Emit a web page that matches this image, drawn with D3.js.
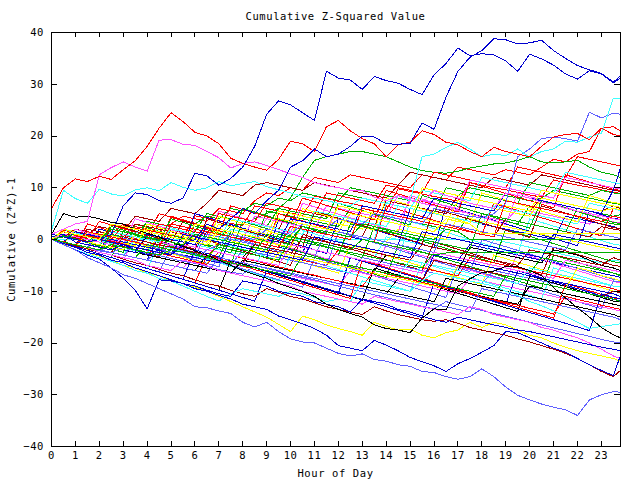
<!DOCTYPE html>
<html><head><meta charset="utf-8">
<script src="https://cdn.jsdelivr.net/npm/d3@7"></script>
<style>body{margin:0;background:#fff}svg{display:block}</style>
</head><body>
<svg id="chart" width="640" height="480"></svg>
<script>
// ---------- data ----------
const hours = [0,0.5,1,1.5,2,2.5,3,3.5,4,4.5,5,5.5,6,6.5,7,7.5,8,8.5,9,9.5,10,10.5,11,11.5,
               12,12.5,13,13.5,14,14.5,15,15.5,16,16.5,17,17.5,18,18.5,19,19.5,20,20.5,21,21.5,22,22.5,23,23.5,23.8];
const xTicks = [0,1,2,3,4,5,6,7,8,9,10,11,12,13,14,15,16,17,18,19,20,21,22,23];
const yTicks = [-40,-30,-20,-10,0,10,20,30,40];

const zA = [1,0.5,0,-0.5,0,1,6.5,9, 8.7,7.5,7,8,12.8,12.3,10.5,11.8, 14,18,24.2,26.8,26,24.5,23,32.5,
  31.2,30.8,29,31.5,30.7,30.2,29,28, 31.8,34,37,35.5,35.9,35.7,34.5,32.5, 35.8,34.9,33.7,32,31,32.6,32,30.3, 31.2];
const zQ = [0.5,1,-0.5,-1,-1.5,-2,-1,-2, -3,-2,-3,-1,0,3,2,4, 6,5,7.5,9.5,14,15.2,17.5,16,
  16.5,18,20,19.8,18.5,18.4,18.6,22.5, 21.3,27.5,32.5,35.2,36.5,38.8,38.6,37.8, 38,38.5,36.5,35,33.6,32.8,32.1,30.4, 31.6];
const zR = [6,10,11.7,11.2,12.2,11.6,13.5,15.2, 18,21.5,24.5,22.8,20.7,20,18.5,15.7, 14.7,14,13.4,15.5,19,18.5,17,21.8,
  23,21,19.5,18.5,16,18.3,18.8,21, 20.3,18.8,18.3,17,16,17.8,17,16.5, 16,18,19.8,20.3,20.5,19.3,21.5,20.3, 20];
const zM = [1,2,3,3.5,12.5,13.9,15,14, 13.2,19.2,19.3,18.4,18.2,17,15.8,13.8, 14.7,15,14.3,13.5,12.7,12,11,10.4,
  10,9.5,9.5,8.2,7.5,8.5,7.7,7, 9.5,8.5,8,7,6.5,6,9,8.5, 8,7.2,6.8,6,5.5,5,4.6,4, 3.8];
const zC = [1.7,9.5,7.9,7,9.7,8.8,8.4,9.6, 10,9.4,11,10.1,9.5,10,11.2,10.4, 10.8,11.2,10.2,9.6,9,8.3,8,7.5,
  7,6.5,8,7.5,7,8.5,7.5,16, 16.5,17.8,18.8,17.5,16,16.5,16.2,17.5, 15.9,17,17.5,19,18.8,19.8,20.5,27.3, 27.2];
const zLV = [0,-0.5,-1,-1.5,-2,-2.5,-3,-3.5, -4,-2,-2.5,-3,-4,-2,-1,1, 0.5,0,2,1.5,1,3,2.5,2,
  4,3.5,3,5,4.5,4,3.5,3, 6,5.5,5,4.5,4.2,5,7,16, 17.5,19.5,19.8,19.5,19,24.6,23.5,24.4, 24.2];
const zLB1 = [0,-1,-2,-3.5,-4.5,-5.5,-6.8,-7.5, -8.5,-9.5,-10.5,-11.5,-13,-13.2,-13.8,-14.3, -16,-16.9,-16,-17.8,-19.2,-19.8,-20,-21,
  -22,-22.5,-22.1,-23.2,-23.5,-24.2,-24.5,-25.5, -25.7,-26.5,-27,-26.5,-25,-26.5,-28.5,-30.1, -31,-31.8,-32.4,-32.9,-34,-31,-30,-29.4, -29.5];
const zDB2 = [0,-0.8,-1.5,-2.5,-3,-4,-4.5,-5.5, -6.2,-7,-7.8,-8.5,-9.5,-10,-10.8,-11.5, -12.5,-13,-13.5,-14.8,-15.5,-16.3,-17.2,-18.5,
  -20.5,-21,-21.5,-19.5,-20.4,-21.5,-22.8,-23.6, -24.4,-25.5,-24,-23,-21.8,-20.5,-17.8,-18, -19,-20,-21,-21.8,-23,-24.2,-25.3,-26.3, -22.4];
const zK1 = [1,5,4.3,4.5,4,3.3,3,2, 1.2,0.5,-0.5,-1.3,-2.2,-3,-4,-5, -6,-6.8,-7.5,-8.5,-9.3,-10,-11,-12.5,
  -13.5,-14.3,-15,-16.5,-17.2,-17.5,-18,-15.2, -13.4,-13.6,-9,-7.6,-6.4,-6.1,-5.2,-5.2, -6,-7,-9.3,-11.3,-13.2,-15,-17,-18.4, -19];
const zY1 = [0,-1,-1.5,-2.5,-3.2,-4,-5,-5.5, -6.5,-7,-8,-8.5,-9.2,-10,-11,-12, -13,-14,-15,-16.4,-17.8,-14.8,-15.5,-16.5,
  -17.2,-17.8,-18.5,-16,-16.8,-17.5,-17.3,-18.5, -19,-18,-17.5,-16,-17,-16,-16.5,-17.5, -18.5,-19,-20,-20.8,-21.5,-22,-22.5,-23, -23.5];
const zDR1 = [0,-0.5,-1.2,-1.8,-2.5,-3,-3.8,-4.5, -5,-5.8,-6.5,-7,-7.8,-8.5,-9,-9.8, -10.5,-11,-9.5,-10.2,-11,-11.5,-12.2,-13,
  -13.5,-14,-14.5,-13,-13.8,-14.5,-15,-15.5, -15.8,-15.5,-16.2,-17,-17.5,-18,-18.5,-19.2, -19.8,-20.5,-21.2,-22,-23,-24.2,-25.5,-26.5, -25.3];
const zCL = [0,-1,-2,-2.8,-3.5,-4.2,-5,-6, -6.5,-7.5,-8,-9,-10,-11,-11.9,-10.5, -9.5,-10,-10.5,-11,-10,-10.5,-11.2,-12,
  -11.5,-12,-8,-8.5,-9,-9.5,-10,-8, -6.5,-7,-7.5,-8,-8.5,-9,-10,-10.8, -12,-12.8,-13.8,-14.8,-16,-17.2,-16.8,-16.5, -16.3];
const zML = [0,-0.5,-1,-1.5,-2.5,-3,-3.5,-4, -5,-5.5,-6,-4,-4.5,-5,-6,-6.5, -7,-7.5,-8,-8.5,-9,-10,-10.5,-11,
  -11.5,-12,-12.5,-11,-11.5,-12,-12.5,-13, -13.5,-14,-14.5,-13,-13.5,-14.5,-15,-15.5, -16,-17,-17.5,-18.3,-19,-20,-21.2,-22.5, -23];
const zD4 = [0,-1,-2,-3,-3.8,-5.5,-7.5,-9.8, -13.4,-7.8,-8,-8.5,-9,-9.8,-10.5,-11, -8,-8.5,-9,-10,-10.5,-11,-12,-12.5,
  -13,-14,-11.5,-12,-12.5,-13.5,-14,-14.8, -15.5,-16,-15,-15.5,-16,-16.5,-17,-17.5, -17.8,-18.3,-18.8,-19.3,-19.8,-20.3,-20.8,-21.2, -21.5];
const zR2 = [0,1,0.5,2,1.5,1,3,2.5, 2,1.5,3,4.5,4,3.5,6,5.5, 5,7.5,9,8.5,10,9.5,12,11.5,
  11,12.5,12,11.5,11,10.5,10,12.5, 12,11.5,14,13.5,13,12.5,13.5,13, 12.5,14,15.5,15,16.5,17,21.5,21.8, 21];
const zDR2 = [0,0.5,1.5,1,2.5,2,1.5,4.5, 4,3.5,6,5.5,5,7,9.5,9, 8.5,10.5,11,10.5,10,9.5,11,10.5,
  10,9.5,9,8.5,8,10.5,13,12.5, 12,11.5,11,10.5,10,12,11.5,11, 10.5,12.5,12,11.5,11,10.5,10,9.5, 9.3];
const zG1 = [0,-0.5,-1,0.5,0,-0.5,-1,-1.5, -2,-1,-1.5,0,1.5,1,0.5,2.5, 3,4,5,6,8,12,15.3,16,
  16.5,17,17,16.5,16,15,14,13.3, 13,12.8,13.2,13.8,14.2,14.6,14.8,15.3, 16,15,14.8,15,15.3,14,13,12.5, 12];
const zG2 = [0,0.5,0,-0.5,-1,-1.5,-1,-2, -2.5,-3,-1,-1.5,3,4.5,4,6, 5.5,7,6.5,8,7.5,9,8.5,8,
  7.5,10,9.5,9,8.5,8,7.5,7, 9.5,9,8.5,10,9.5,9,8.5,8, 7.5,8,9.5,9,8.5,8,7.5,7, 6.8];
const zR3 = [0,1.8,1.3,0.9,0.4,0,2.7,2.2, 1.8,1.3,0.8,0.3,4.6,4.1,3.6,3.1, 2.7,6.5,6,5.5,5.1,4.6,8.4,7.9,
  7.4,7,6.5,6,5.6,9.8,9.3,8.8, 8.3,7.9,7.4,11,10.5,10,9.6,9.1, 8.6,8.2,11.5,11,10.5,10.1,9.6,9.1, 8.9];
const zG4 = [0,-0.5,-1,1.5,1,0.5,0,-0.5, -1,-1.5,2.5,2,1.5,1,0.5,0, -0.5,-1,5.5,5,4.5,4,3.5,3,
  2.5,6,5.5,5,4.5,4,3.5,3, 2.5,2,1.5,5,4.5,4,3.5,3, 6.5,6,5.5,5,4.5,4,3.5,3, 2.8];
const zB3 = [0,-0.5,-1,-1.5,2,1.5,1,0.5, 0,-0.5,-1,-1.5,-2,1.5,1,0.5, 0,-0.5,-1,-1.5,-2,-2.5,2,1.5,
  1,0.5,0,-0.5,-1,-1.5,-2,-2.5, -3,-3.5,-4,-1,-1.5,-2,-2.5,-3, -3.5,-4,-4.5,-5,-5.5,-6,-6.5,-7, -7.3];
const zM2 = [0,0.5,0,-0.5,-1,-1.5,1.5,1, 0.5,0,-0.5,-1,-1.5,2.5,2,1.5, 1,0.5,4,3.5,3,2.5,2,6.5,
  6,5.5,5,4.5,4,3.5,7.5,7, 6.5,6,5.5,5,4.5,4,3.5,6, 5.5,5,4.5,4,3.5,3,5,4.5, 4.2];
const zC2 = [0,1,0.5,0,-0.5,-1,-1.5,-2, -2.5,0.5,0,-0.5,-1,-1.5,-2,-2.5, -3,1.5,1,0.5,0,-0.5,-1,-1.5,
  -2,-2.5,-3,-3.5,0.5,0,-0.5,-1, -1.5,-2,-2.5,-3,-3.5,0,-0.5,-1, -1.5,-2,-2.5,-3,-3.5,-4,-4.5,-4, -4.2];
const zDR3 = [0,0.5,2,1.5,1,0.5,0,3, 2.5,2,1.5,1,0.5,0,4.5,4, 3.5,3,2.5,2,6,5.5,5,4.5,
  4,3.5,3,2.5,7.5,7,6.5,6, 5.5,5,8.5,8,7.5,7,6.5,6, 5.5,8,7.5,7,6.5,6,5.5,6.5, 6];
const zY3 = [0,-0.5,1,0.5,0,-0.5,-1,-1.5, -2,0.5,0,-0.5,-1,-1.5,1.5,1, 0.5,0,-0.5,-1,-1.5,3,2.5,2,
  1.5,1,0.5,0,-0.5,2,1.5,1, 0.5,0,4.5,4,3.5,3,2.5,2, 1.5,1,0.5,0,-0.5,-1,-1.5,-2, -2.2];
const zLB2 = [0,-0.5,-1,-1.5,-2,-2.5,-3,-1, -1.5,-2,-2.5,-3,-3.5,-4,-4.5,-5, -2,-2.5,-3,-3.5,-4,-4.5,-5,-5.5,
  -6,-6.5,-3.5,-4,-4.5,-5,-5.5,-6, -6.5,-7,-7.5,-8,-8.5,-6,-6.5,-7, -7.5,-8,-8.5,-9,-9.5,-10,-11,-11.5, -12];
const zK2 = [0,1,0.5,0,-0.5,-1,-1.5,-2, 0.5,0,-0.5,-1,-1.5,-2,-2.5,-3, -3.5,-1,-1.5,-2,-2.5,-3,-3.5,-4,
  -4.5,-5,-5.5,-6,-3,-3.5,-4,-4.5, -5,-5.5,-6,-1.5,-2,-2.5,-3,-3.5, -4,-4.5,-2,-2.5,-3,-4,-5,-5.5, -6];
const zR4 = [0,-0.5,-1,-1.5,-2,0.5,0,-0.5, -1,-1.5,-2,-2.5,-3,-3.5,-0.5,-1, -1.5,-2,-2.5,-3,-3.5,-4,-4.5,-5,
  -2,-2.5,-3,-3.5,-4,-4.5,-5,-5.5, -6,-6.5,-7,-3.5,-4,-4.5,-5,-5.5, -6,-6.5,-7,-7.5,-8,-8.5,-9,-9.5, -10];
const zG5 = [0,0.5,0,-0.5,1.5,1,0.5,0, 3.5,3,2.5,2,1.5,5,4.5,4, 3.5,3,2.5,6,5.5,5,4.5,4,
  9,8.5,8,7.5,7,6.5,6,5.5, 5,10,9.5,9,8.5,8,7.5,7, 11,10.5,10,9.5,9,8.5,9.5,9, 8.8];
const zB4 = [0,-0.5,-1,-1.5,-2,-2.5,-3,-3.5, -4,1,0.5,0,-0.5,-1,-1.5,-2, -2.5,-3,-3.5,4,3.5,3,2.5,2,
  1.5,1,0.5,0,-0.5,-1,6,5.5, 5,4.5,4,3.5,3,2.5,2,1.5, 1,0.5,0,4.5,4,3.5,3,2.5, 2];
const zM3 = [0,-0.5,-1,-1.5,-2,-2.5,-3,-3.5, -4,-4.5,-5,-5.5,-3,-3.5,-4,-4.5, -5,-5.5,-6,-6.5,-7,-7.5,-8,-8.5,
  -9,-6,-6.5,-7,-7.5,-8,-8.5,-9, -9.5,-10,-10.5,-7.5,-8,-8.5,-9,-9.5, -10,-10.5,-11,-11.5,-12,-12.5,-13,-13.5, -13.8];
const zC3 = [0,0.5,1,0.5,0,-0.5,-1,1.5, 1,0.5,0,-0.5,-1,-1.5,-2,2, 1.5,1,0.5,0,3.5,3,2.5,2,
  1.5,1,0.5,0,7,6.5,6,5.5, 5,4.5,4,3.5,3,6.5,6,5.5, 5,4.5,4,3.5,3,7,6.5,6, 5.5];
const zDR4 = [0,-0.5,-1,2,1.5,1,0.5,0, -0.5,-1,-1.5,-2,1,0.5,0,-0.5, -1,-1.5,-2,-2.5,-3,0.5,0,-0.5,
  -1,-1.5,-2,-2.5,-3,-3.5,-4,-1, -1.5,-2,-2.5,-3,-3.5,-4,-4.5,-5, -2,-2.5,-3,-3.5,-4,-4.5,-5,-3.5, -4];
const zY4 = [0,2,1.5,1,0.5,0,-0.5,-1, 2,1.5,1,0.5,0,-0.5,3,2.5, 2,1.5,1,5.5,5,4.5,4,3.5,
  3,2.5,2,6,5.5,5,4.5,4, 3.5,3,7.5,7,6.5,6,5.5,5, 4.5,8,7.5,7,6.5,6,5.5,6, 5.8];
const zLB3 = [0,-0.6,-1.1,-1.5,-2.2,-2.6,-1.5,-2, -2.6,-3.1,-3.7,-4.2,-4.6,-5.2,-5.8,-6.3, -6.7,-5,-5.6,-6.2,-6.7,-7.3,-7.8,-8.4,
  -9,-9.6,-10.1,-10.7,-11.2,-11.8,-12.3,-12.9, -13.4,-12,-12.6,-13.2,-13.7,-14.3,-14.8,-15.4, -16,-16.5,-17.1,-17.6,-18.2,-18.7,-19.3,-19.8, -20];
const zK3 = [0,-0.5,-1,-1.5,-2,-2.5,-3,-3.5, -4,-4.5,-5,-5.5,-6,-3,-3.5,-4, -4.5,-5,-5.5,-6,-6.5,-7,-7.5,-8,
  -8.5,-9,-9.5,-10,-10.5,-7.5,-8,-8.5, -9,-9.5,-10,-10.5,-11,-11.5,-12,-12.5, -9,-9.5,-10,-10.5,-11,-11.5,-12,-12.5, -12.8];
const zR5 = [0,0.5,0,-0.5,-1,-1.5,1,0.5, 0,3,2.5,2,1.5,1,5,4.5, 4,3.5,7,6.5,6,5.5,5,9,
  8.5,8,7.5,7,10.5,10,9.5,9, 13,12.5,12,11.5,11,10.5,10,14, 13.5,13,12.5,12,16,15.5,15,14.5, 14.2];
const zG6 = [0,1.5,1,0.5,0,-0.5,-1,-1.5, -2,-2.5,0.5,0,-0.5,-1,-1.5,-2, -2.5,-3,-3.5,-4,0,-0.5,-1,-1.5,
  -2,-2.5,-3,-3.5,-4,-4.5,-5,-5.5, -2.5,-3,-3.5,-4,-4.5,-5,-5.5,-6, -6.5,-3.5,-4,-4.5,-5,-5.5,-6,-6.5, -7];
const zB5 = [0,-0.5,1.5,1,0.5,0,-0.5,-1, -1.5,-2,-2.5,-3,-3.5,-4,-4.5,0, -0.5,-1,-1.5,-2,-2.5,-3,-3.5,-4,
  -4.5,-5,-5.5,-6,-6.5,-7,-7.5,-8, -3,-3.5,-4,-4.5,-5,-5.5,-6,-6.5, -7,-7.5,-8,-8.5,-9,-9.5,-10,-10.5, -11];
const zM4 = [0,-0.5,-1,-1.5,-2,-2.5,1,0.5, 0,-0.5,-1,-1.5,2,1.5,1,0.5, 0,4.5,4,3.5,3,2.5,2,1.5,
  6.5,6,5.5,5,4.5,8.5,8,7.5, 7,6.5,6,11.5,11,10.5,10,9.5, 9,8.5,8,12,11.5,11,10.5,10, 9.8];
const zC4 = [0,-0.5,-1,-1.5,-2,-2.5,-3,0, -0.5,-1,-1.5,-2,-2.5,-3,-3.5,-4, -4.5,-5,-1.5,-2,-2.5,-3,-3.5,-4,
  -4.5,-5,-5.5,-6,-6.5,-7,-4,-4.5, -5,-5.5,-6,-6.5,-7,-7.5,-8,-8.5, -5.5,-6,-6.5,-7,-7.5,-8,-8.5,-9, -9.2];
const zDR5 = [0,0.5,0,-0.5,-1,2,1.5,1, 0.5,0,-0.5,3.5,3,2.5,2,1.5, 1,0.5,0,-0.5,-1,3,2.5,2,
  1.5,1,0.5,5.5,5,4.5,4,3.5, 3,2.5,2,1.5,1,0.5,4,3.5, 3,2.5,2,1.5,1,0.5,2.5,2, 1.8];
const zY5 = [0,-0.5,-1,-1.5,-2,-2.5,-3,-3.5, -1,-1.5,-2,-2.5,-3,-3.5,-4,-4.5, -5,-5.5,-6,-2.5,-3,-3.5,-4,-4.5,
  -5,-5.5,-6,-6.5,-7,-7.5,-8,-8.5, -9,-9.5,-5,-5.5,-6,-6.5,-7,-7.5, -8,-8.5,-9,-9.5,-5.5,-6,-7,-7.5, -8];
const zLB4 = [0,-0.5,-1,-1.5,1,0.5,0,-0.5, -1,-1.5,-2,-2.5,-3,1,0.5,0, -0.5,-1,-1.5,-2,-2.5,-3,-3.5,2,
  1.5,1,0.5,0,-0.5,-1,-1.5,-2, -2.5,3,2.5,2,1.5,1,0.5,0, -0.5,-1,-1.5,-2,2,1.5,1,0.5, 0.2];
const zK4 = [0,0.5,0,-0.5,-1,-1.5,-2,-2.5, -3,-3.5,-4,-4.5,-5,-5.5,-6,-6.5, -4,-4.5,-5,-5.5,-6,-6.5,-7,-7.5,
  -8,-8.5,-9,-9.5,-10,-10.5,-11,-11.5, -12,-7.5,-8,-8.5,-9,-9.5,-10,-10.5, -11,-11.5,-12,-12.5,-13,-13.5,-14,-14.5, -15];
const zR6 = [0,-0.4,-1.1,0.8,0.2,-0.3,-0.9,-1.5, -2.1,-2.6,-3.2,-3.7,-4.3,-4.8,-2.5,-3, -3.6,-4.1,-4.7,-5.3,-5.8,-6.4,-6.9,-7.5,
  -8,-8.6,-9.1,-6,-6.6,-7.2,-7.7,-8.3, -8.8,-9.4,-9.9,-10.5,-11.1,-11.6,-12.2,-12.7, -13.3,-13.8,-14.4,-11,-11.6,-12.1,-12.7,-13.2, -13.5];
const zG7 = [0,-0.5,-1,-1.5,-2,1,0.5,0, -0.5,-1,-1.5,-2,-2.5,-3,-3.5,1.5, 1,0.5,0,-0.5,-1,-1.5,-2,-2.5,
  -3,3,2.5,2,1.5,1,0.5,0, -0.5,-1,-1.5,-2,5,4.5,4,3.5, 3,2.5,2,1.5,6,5.5,5,4.5, 4.8];
const zB6 = [0,0.5,0,-0.5,-1,-1.5,-2,-2.5, 1,0.5,0,-0.5,-1,2.5,2,1.5, 1,0.5,0,-0.5,4,3.5,3,2.5,
  2,1.5,6.5,6,5.5,5,4.5,4, 8,7.5,7,6.5,6,5.5,9,8.5, 8,7.5,7,6.5,6,5.5,5,9.6, 13.8];
const zM5 = [0,1,0.5,0,-0.5,-1,-1.5,-2, -2.5,-3,-0.5,-1,-1.5,-2,-2.5,-3, -3.5,-4,-4.5,-5,-1,-1.5,-2,-2.5,
  -3,-3.5,-4,-4.5,-5,-5.5,-6,-6.5, -2.5,-3,-3.5,-4,-4.5,-5,-5.5,-6, -6.5,-7,-7.5,-4,-4.5,-5,-5.5,-6, -6.2];
const zC5 = [0,0.5,0,-0.5,-1,1.5,1,0.5, 0,-0.5,2,1.5,1,0.5,0,4, 3.5,3,2.5,2,1.5,1,5.5,5,
  4.5,4,3.5,3,2.5,6.5,6,9.5, 9,8.5,8,7.5,12,11.5,11,10.5, 10,9.5,9,13,12.5,12,11.5,11, 10.8];
const zDR6 = [0,-0.5,-1,-1.5,-2,-2.5,0.5,0, -0.5,-1,-1.5,-2,-2.5,-3,-3.5,-4, -4.5,-1,-1.5,-2,-2.5,-3,-3.5,-4,
  -4.5,-5,-5.5,-6,-6.5,-7,-7.5,-8, -4,-4.5,-5,-5.5,-6,-6.5,-7,-7.5, -8,-8.5,-9,-9.5,-10,-10.5,-11,-10, -10.3];
const zY6 = [0,0.5,0,-0.5,-1,-1.5,-2,1, 0.5,0,-0.5,-1,3,2.5,2,1.5, 1,0.5,0,4,3.5,3,2.5,2,
  6.5,6,5.5,5,4.5,4,3.5,10, 9.5,9,8.5,8,7.5,7,6.5,6, 5.5,9.5,9,8.5,8,7.5,7,6.5, 6.2];
const zLB5 = [0,-0.5,-1,-1.5,-2,-2.5,-3,-3.5, -4,-4.5,-5,-5.5,-6,-6.5,-3.5,-4, -4.5,-5,-5.5,-6,-6.5,-7,-7.5,-8,
  -8.5,-9,-9.5,-10,-10.5,-11,-11.5,-12, -12.5,-13,-13.5,-14,-9.5,-10,-10.5,-11, -11.5,-12,-12.5,-13,-13.5,-14,-14.5,-15, -15.5];
const zR7 = [0,-0.5,-1,1.5,1,0.5,0,-0.5, -1,-1.5,3,2.5,2,1.5,1,0.5, 0,-0.5,-1,-1.5,2.5,2,1.5,1,
  0.5,0,6,5.5,5,4.5,4,3.5, 3,2.5,2,1.5,1,0.5,7.5,7, 6.5,6,5.5,5,4.5,4,3.5,4.5, 4.2];
const zG8 = [0,-0.5,-1,-1.5,-2,-2.5,-3,-3.5, -1,-1.5,-2,-2.5,-3,-3.5,-4,-4.5, -5,-5.5,-6,-6.5,-7,-3,-3.5,-4,
  -4.5,-5,-5.5,-6,-6.5,-7,-7.5,-8, -8.5,-9,-9.5,-10,-10.5,-11,-7,-7.5, -8,-8.5,-9,-9.5,-10,-10.5,-11,-11.5, -12];
const zB7 = [0,1.5,1,0.5,0,-0.5,-1,-1.5, -2,-2.5,-3,1,0.5,0,-0.5,-1, -1.5,-2,-2.5,-3,-3.5,-4,0.5,0,
  -0.5,-1,-1.5,-2,-2.5,-3,-3.5,1.5, 1,0.5,0,-0.5,-1,-1.5,-2,-2.5, -3,-3.5,1,0.5,0,-0.5,-1,-1.5, -1.8];
const zN1 = [0,-0.7,-1.4,3,2.3,1.6,0.9,0.2, -0.5,-1.2,4.5,3.8,3.1,2.4,1.7,1, 0.3,-0.4,-1.1,5,4.3,3.6,2.9,2.2,
  1.5,0.8,0.1,-0.6,6.5,5.8,5.1,4.4, 3.7,3,2.3,1.6,0.9,7,6.3,5.6, 4.9,4.2,3.5,2.8,2.1,1.4,0.7,6, 6.2];
const zN2 = [0,1,0.3,-0.4,-1.1,-1.8,-2.5,3, 2.3,1.6,0.9,0.2,-0.5,-1.2,-1.9,-2.6, 3.5,2.8,2.1,1.4,0.7,0,-0.7,-1.4,
  -2.1,-2.8,-3.5,2.5,1.8,1.1,0.4,-0.3, -1,-1.7,-2.4,-3.1,-3.8,-4.5,2,1.3, 0.6,-0.1,-0.8,-1.5,-2.2,-2.9,-3.6,-4.3, -4.5];
const zN3 = [0,-0.7,-1.4,-2.1,-2.8,2.5,1.8,1.1, 0.4,-0.3,-1,-1.7,5,4.3,3.6,2.9, 2.2,1.5,0.8,0.1,-0.6,-1.3,-2,-2.7,
  4,3.3,2.6,1.9,1.2,0.5,-0.2,-0.9, -1.6,6.5,5.8,5.1,4.4,3.7,3,2.3, 1.6,0.9,0.2,-0.5,-1.2,5.5,4.8,4.1, 3.9];
const zN4 = [0,-0.7,-1.4,-2.1,-2.8,-3.5,-4.2,1, 0.3,-0.4,-1.1,-1.8,-2.5,-3.2,-3.9,-4.6, -5.3,0.5,-0.2,-0.9,-1.6,-2.3,-3,-3.7,
  -4.4,-5.1,-5.8,-6.5,-1,-1.7,-2.4,-3.1, -3.8,-4.5,-5.2,-5.9,-6.6,-7.3,-8,-2.5, -3.2,-3.9,-4.6,-5.3,-6,-6.7,-7.4,-8.1, -8.4];
const zN5 = [0,2,1.3,0.6,-0.1,-0.8,-1.5,-2.2, -2.9,3,2.3,1.6,0.9,0.2,-0.5,-1.2, -1.9,-2.6,-3.3,-4,2.5,1.8,1.1,0.4,
  -0.3,-1,-1.7,-2.4,-3.1,-3.8,3.5,2.8, 2.1,1.4,0.7,0,-0.7,-1.4,-2.1,-2.8, 4,3.3,2.6,1.9,1.2,0.5,-0.2,-0.9, -1.1];
const zN6 = [0,-0.7,1.5,0.8,0.1,-0.6,-1.3,-2, -2.7,-3.4,2,1.3,0.6,-0.1,-0.8,-1.5, -2.2,-2.9,-3.6,-4.3,-5,1,0.3,-0.4,
  -1.1,-1.8,-2.5,-3.2,-3.9,-4.6,-5.3,-6, -0.5,-1.2,-1.9,-2.6,-3.3,-4,-4.7,-5.4, -6.1,-6.8,-1.5,-2.2,-2.9,-3.6,-4.3,-5, -5.2];
const zN7 = [0,-0.7,-1.4,-2.1,1.5,0.8,0.1,-0.6, -1.3,-2,-2.7,-3.4,-4.1,-4.8,0.5,-0.2, -0.9,-1.6,-2.3,-3,-3.7,-4.4,-5.1,-5.8,
  -6.5,-1,-1.7,-2.4,-3.1,-3.8,-4.5,-5.2, -5.9,-6.6,-7.3,-8,-8.7,-3,-3.7,-4.4, -5.1,-5.8,-6.5,-7.2,-7.9,-8.6,-9.3,-10, -10.2];
const zN8 = [0,-0.7,-1.4,-2.1,-2.8,-3.5,-4.2,-4.9, -5.6,-6.3,-1.5,-2.2,-2.9,-3.6,-4.3,-5, -5.7,-6.4,-7.1,-7.8,-8.5,-9.2,-3.5,-4.2,
  -4.9,-5.6,-6.3,-7,-7.7,-8.4,-9.1,-9.8, -10.5,-11.2,-5,-5.7,-6.4,-7.1,-7.8,-8.5, -9.2,-9.9,-10.6,-11.3,-12,-12.7,-13.4,-8, -8.2];
const zN9 = [0,1.5,0.8,0.1,3.5,2.8,2.1,1.4, 0.7,5,4.3,3.6,2.9,2.2,1.5,6.5, 5.8,5.1,4.4,3.7,3,8,7.3,6.6,
  5.9,5.2,4.5,3.8,9.5,8.8,8.1,7.4, 6.7,6,5.3,11,10.3,9.6,8.9,8.2, 7.5,6.8,6.1,12.5,11.8,11.1,10.4,9.7, 9.5];
const zN10 = [0,-0.7,-1.4,-2.1,-2.8,-3.5,1.5,0.8, 0.1,-0.6,-1.3,-2,-2.7,-3.4,-4.1,-4.8, 1,0.3,-0.4,-1.1,-1.8,-2.5,-3.2,-3.9,
  -4.6,-5.3,-6,-6.7,-7.4,-1,-1.7,-2.4, -3.1,-3.8,-4.5,-5.2,-5.9,-6.6,-7.3,-8, -8.7,-9.4,-3,-3.7,-4.4,-5.1,-5.8,-6.5, -6.8];
const zN11 = [0,-0.7,-1.4,-2.1,-2.8,-3.5,-4.2,-4.9, -5.6,-6.3,-7,-7.7,-2,-2.7,-3.4,-4.1, -4.8,-5.5,-6.2,-6.9,-7.6,-8.3,-9,-9.7,
  -10.4,-3.5,-4.2,-4.9,-5.6,-6.3,-7,-7.7, -8.4,-9.1,-9.8,-10.5,-11.2,-11.9,-12.6,-6, -6.7,-7.4,-8.1,-8.8,-9.5,-10.2,-10.9,-11.6, -11.8];
const zN12 = [0,-0.7,2,1.3,0.6,-0.1,-0.8,4, 3.3,2.6,1.9,1.2,0.5,-0.2,5.5,4.8, 4.1,3.4,2.7,2,1.3,7,6.3,5.6,
  4.9,4.2,3.5,2.8,2.1,1.4,8.5,7.8, 7.1,6.4,5.7,5,4.3,3.6,2.9,9, 8.3,7.6,6.9,6.2,5.5,4.8,4.1,3.4, 3.2];
const zN13 = [0,-0.7,-1.4,-2.1,-2.8,-3.5,-4.2,-4.9, -5.6,-1,-1.7,-2.4,-3.1,-3.8,-4.5,-5.2, -5.9,-6.6,-7.3,-8,-3,-3.7,-4.4,-5.1,
  -5.8,-6.5,-7.2,-7.9,-8.6,-9.3,-10,-4.5, -5.2,-5.9,-6.6,-7.3,-8,-8.7,-9.4,-10.1, -10.8,-11.5,-5.5,-6.2,-6.9,-7.6,-8.3,-9, -9.2];
const zN14 = [0,1,0.3,-0.4,-1.1,3,2.3,1.6, 0.9,0.2,-0.5,-1.2,-1.9,4,3.3,2.6, 1.9,1.2,0.5,-0.2,-0.9,-1.6,5.5,4.8,
  4.1,3.4,2.7,2,1.3,0.6,-0.1,-0.8, 6,5.3,4.6,3.9,3.2,2.5,1.8,1.1, 0.4,6.5,5.8,5.1,4.4,3.7,3,2.3, 2.1];
const zN15 = [0,-0.7,-1.4,1.5,0.8,0.1,-0.6,-1.3, 3,2.3,1.6,0.9,0.2,-0.5,4.5,3.8, 3.1,2.4,1.7,1,0.3,6,5.3,4.6,
  3.9,3.2,2.5,1.8,8,7.3,6.6,5.9, 5.2,4.5,3.8,3.1,9,8.3,7.6,6.9, 6.2,5.5,4.8,4.1,3.4,8.5,7.8,7.1, 7];
const zN16 = [0,-0.7,-1.4,-2.1,-2.8,1,0.3,-0.4, -1.1,-1.8,-2.5,-3.2,-3.9,-4.6,-5.3,0.5, -0.2,-0.9,-1.6,-2.3,-3,-3.7,-4.4,-5.1,
  1.5,0.8,0.1,-0.6,-1.3,-2,-2.7,-3.4, -4.1,-4.8,-5.5,-6.2,0,-0.7,-1.4,-2.1, -2.8,-3.5,-4.2,-4.9,-5.6,-6.3,-7,-7.7, -7.9];
const zN17 = [0,-0.7,-1.4,-2.1,-2.8,-3.5,-4.2,-4.9, -5.6,-6.3,-7,-7.7,-8.4,-9.1,-9.8,-4, -4.7,-5.4,-6.1,-6.8,-7.5,-8.2,-8.9,-9.6,
  -10.3,-11,-11.7,-5.5,-6.2,-6.9,-7.6,-8.3, -9,-9.7,-10.4,-11.1,-11.8,-12.5,-13.2,-13.9, -7,-7.7,-8.4,-9.1,-9.8,-10.5,-11.2,-11.9, -12.1];
const zN18 = [0,-0.7,-1.4,-2.1,-2.8,-3.5,-4.2,-4.9, -5.6,-6.3,-7,-7.7,-8.4,-3,-3.7,-4.4, -5.1,-5.8,-6.5,-7.2,-7.9,-8.6,-9.3,-10,
  -10.7,-11.4,-4,-4.7,-5.4,-6.1,-6.8,-7.5, -8.2,-8.9,-9.6,-10.3,-11,-11.7,-12.4,-13.1, -13.8,-14.5,-15.2,-8.5,-9.2,-9.9,-10.6,-11.3, -11.5];
const zN19 = [0,0.8,0.1,-0.6,-1.3,2.5,1.8,1.1, 0.4,-0.3,4,3.3,2.6,1.9,1.2,0.5, 6,5.3,4.6,3.9,3.2,2.5,1.8,1.1,
  7,6.3,5.6,4.9,4.2,3.5,2.8,8.5, 7.8,7.1,6.4,5.7,5,4.3,3.6,2.9, 2.2,7.5,6.8,6.1,5.4,4.7,4,3.3, 3.1];
const zN20 = [0,-0.7,-1.4,-2.1,-2.8,-3.5,-4.2,-4.9, -5.6,-6.3,-7,-7.7,-8.4,-9.1,-9.8,-10.5, -11.2,-11.9,-6,-6.7,-7.4,-8.1,-8.8,-9.5,
  -10.2,-10.9,-11.6,-12.3,-13,-13.7,-14.4,-15.1, -8.5,-9.2,-9.9,-10.6,-11.3,-12,-12.7,-13.4, -14.1,-14.8,-15.5,-16.2,-16.9,-17.6,-10.5,-11.2, -11.4];
const zG0 = [0,-0.5,-1,-1.5,-2,-1,-1.5,-2, -2.5,-3,-2,-2.5,-3,-3.5,-1,-1.5, -2,-2.5,1,0.5,0,2.5,2,1.5,
  1,0.5,3,2.5,2,1.5,1,0.5, 0,2,1.5,0,0,0,0,0, 0,0,0,0,0,0,0,0, 0];
const zG3 = [0,0.5,1,0.5,0,2,1.5,1, 0.5,0,-0.5,-1,1,0.5,0,-0.5, -1,-1.5,-2,1,0.5,0,-0.5,-1,
  -1.5,-2,0,-0.5,-1,-1.5,-2,-2.5, -3,-2.6,-2.6,-2.6,-2.6,-2.6,-2.6,-2.6, -2.6,-2.6,-2.6,-2.6,-2.6,-2.6,-2.6,-2.6, -2.6];
const zY2 = [0,1.5,1,0.5,0,3,2.5,2, 1.5,1,0.5,0,-0.5,-1,2,1.5, 1,0.5,0,4,3.5,3,2.5,2,
  1.5,5,4.5,4,3.5,3,2.5,2, 1.5,4,3.5,3,1.2,1.2,1.2,1.2, 1.2,1.2,1.2,1.2,1.2,1.2,1.2,1.2, 1.2];
const zCF = [0,0,0,0,0,0,0,0, 0,0,0,0,0,0,0,0, 0,0,0,0,0,0,0,0,
  0,0,0,0,0,0,0,0, 0,0,0,0,0,0,0,0, 0,0,0,0,0,0,0,0, 0];

// ---------- style (kept apart from the data) ----------
const RED="#ff0000", GRN="#00b000", BLU="#0000d0", MAG="#ff50ff", CYN="#40ffff",
      DRD="#a00000", YEL="#ffff00", LBL="#6060ff", BLK="#000000";

const drawList = [
  [zCF,CYN],[zR2,RED],[zDR2,DRD],[zG1,GRN],[zG2,GRN],[zR3,RED],[zG4,GRN],[zB3,BLU],[zM2,MAG],[zC2,CYN],
  [zN1,RED],[zN2,GRN],[zN3,BLU],[zN4,MAG],[zN5,CYN],[zN6,DRD],[zN7,YEL],[zN8,LBL],[zN9,RED],[zN10,GRN],
  [zDR3,DRD],[zY3,YEL],[zLB2,LBL],[zK2,BLK],[zR4,RED],[zG5,GRN],[zB4,BLU],[zM3,MAG],[zC3,CYN],[zDR4,DRD],
  [zN11,BLU],[zN12,MAG],[zN13,CYN],[zN14,DRD],[zN15,YEL],[zN16,LBL],[zN17,BLK],[zN18,RED],[zN19,GRN],[zN20,BLU],
  [zY4,YEL],[zLB3,LBL],[zK3,BLK],[zR5,RED],[zG6,GRN],[zB5,BLU],[zM4,MAG],[zC4,CYN],[zDR5,DRD],[zY5,YEL],
  [zLB4,LBL],[zK4,BLK],[zR6,RED],[zG7,GRN],[zB6,BLU],[zM5,MAG],[zC5,CYN],[zDR6,DRD],[zY6,YEL],[zLB5,LBL],
  [zR7,RED],[zG8,GRN],[zB7,BLU],[zY1,YEL],[zDR1,DRD],[zCL,CYN],[zML,MAG],[zD4,BLU],[zK1,BLK],[zDB2,BLU],
  [zLB1,LBL],[zLV,LBL],[zC,CYN],[zM,MAG],[zR,RED],[zQ,BLU],[zA,BLU],[zG0,GRN],[zG3,GRN],[zY2,YEL]
];

// ---------- chart ----------
const W = 640, H = 480;
const pLeft = 51, pRight = 620, pTop = 32, pBottom = 446;
const FONT = "'DejaVu Sans Mono', 'Liberation Mono', monospace";

const svg = d3.select("#chart");
svg.append("rect").attr("width", W).attr("height", H).attr("fill", "#fff");

const x = d3.scaleLinear().domain([hours[0], hours[hours.length - 1]]).range([pLeft, pRight]);
const y = d3.scaleLinear().domain([yTicks[0], yTicks[yTicks.length - 1]]).range([pBottom, pTop]);

svg.append("defs").append("clipPath").attr("id", "plotclip")
  .append("rect").attr("x", pLeft).attr("y", pTop).attr("width", pRight - pLeft + 1).attr("height", pBottom - pTop + 1);

const line = d3.line().x((d, i) => x(hours[i]) + 0.5).y(d => y(d) + 0.5);
const gl = svg.append("g").attr("clip-path", "url(#plotclip)");
drawList.forEach(([vals, col]) => {
  gl.append("path").datum(vals).attr("d", line)
    .attr("fill", "none").attr("stroke", col).attr("stroke-width", 1)
    .attr("shape-rendering", "crispEdges");
});

function styleAxis(g) {
  g.select(".domain").remove();
  g.selectAll(".tick line").attr("stroke", "#000").attr("shape-rendering", "crispEdges");
  g.selectAll("text").attr("font-family", FONT).attr("font-size", "10.5px")
    .attr("letter-spacing", "0.6px").attr("fill", "#000");
}

svg.append("g").attr("transform", `translate(0,${pBottom})`)
  .call(d3.axisBottom(x).tickValues(xTicks).tickSize(-5).tickPadding(6).tickFormat(d3.format("d")))
  .call(styleAxis);
svg.append("g").attr("transform", `translate(0,${pTop})`)
  .call(d3.axisTop(x).tickValues(xTicks).tickSize(-5).tickFormat(""))
  .call(styleAxis);
svg.append("g").attr("transform", `translate(${pLeft},0)`)
  .call(d3.axisLeft(y).tickValues(yTicks).tickSize(-6).tickPadding(7).tickFormat(d3.format("d")))
  .call(styleAxis);
svg.append("g").attr("transform", `translate(${pRight},0)`)
  .call(d3.axisRight(y).tickValues(yTicks).tickSize(-6).tickFormat(""))
  .call(styleAxis);

svg.append("rect").attr("x", pLeft + 0.5).attr("y", pTop + 0.5)
  .attr("width", pRight - pLeft).attr("height", pBottom - pTop)
  .attr("fill", "none").attr("stroke", "#000").attr("stroke-width", 1);

const txt = (s) => svg.append("text").attr("font-family", FONT).attr("font-size", "10.5px")
  .attr("letter-spacing", "0.6px").attr("fill", "#000").attr("text-anchor", "middle").text(s);
txt("Cumulative Z-Squared Value").attr("x", 335.5).attr("y", 19.5);
txt("Hour of Day").attr("x", 335.5).attr("y", 477);
txt("Cumulative (Z*Z)-1").attr("transform", "translate(15,239.5) rotate(-90)");
</script>
</body></html>
